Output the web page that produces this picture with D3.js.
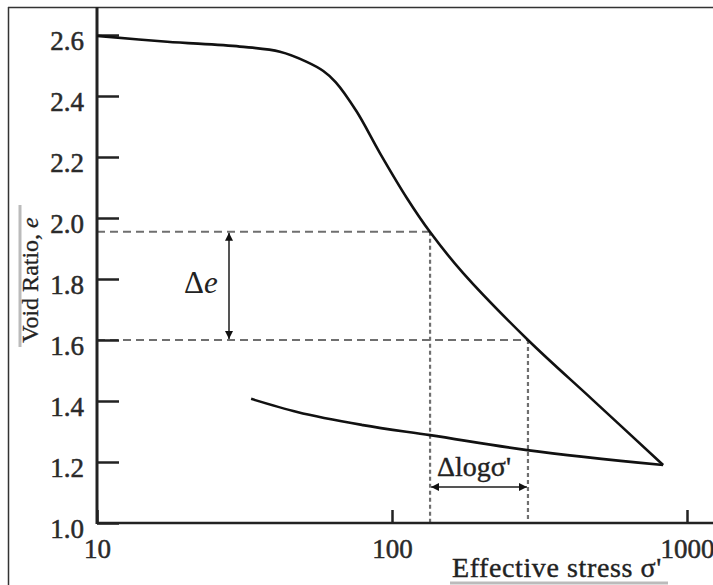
<!DOCTYPE html>
<html>
<head>
<meta charset="utf-8">
<script src="https://cdn.jsdelivr.net/npm/d3@7"></script>
<style>
  body { margin: 0; background: #fff; }
  svg { display: block; }
  text { font-family: 'Liberation Serif', 'DejaVu Serif', serif; }
</style>
</head>
<body>
<div id="chart"></div>
<script>
// e-log(sigma') consolidation curve
const virginStress = [10, 17.3, 30.5, 41.7, 51.4, 58.5, 64.5, 75.9, 91, 112.4, 134.6, 174, 289, 480, 830];
const virginVoid   = [2.597, 2.578, 2.562, 2.545, 2.512, 2.482, 2.445, 2.349, 2.213, 2.065, 1.954, 1.82, 1.60, 1.403, 1.19];

const unloadStress = [33.3, 47.7, 79.7, 134.6, 287, 830];
const unloadVoid   = [1.407, 1.364, 1.321, 1.288, 1.239, 1.19];

const yTicks = [1.0, 1.2, 1.4, 1.6, 1.8, 2.0, 2.2, 2.4, 2.6];
const xTicks = [10, 100, 1000];

// construction lines
const eMarks = [1.955, 1.60];
const sigmaMarks = [134.6, 289];

const W = 713, H = 585;

const svg = d3.select("#chart")
  .append("svg")
  .attr("width", W)
  .attr("height", H);

const x = d3.scaleLog().domain([10, 1000]).range([97, 687]);
const y = d3.scaleLinear().domain([1.0, 2.6]).range([523, 35]);

// outer frame (left and top only, right/bottom cropped off)
svg.append("line").attr("x1", 8.5).attr("y1", 7).attr("x2", 8.5).attr("y2", H)
  .attr("stroke", "#333").attr("stroke-width", 1.5);
svg.append("line").attr("x1", 8).attr("y1", 7.5).attr("x2", W).attr("y2", 7.5)
  .attr("stroke", "#333").attr("stroke-width", 1.5);

// dashed construction lines
const dash = svg.append("g")
  .attr("stroke", "#6f6f6f")
  .attr("stroke-width", 2.2)
  .attr("fill", "none");

eMarks.forEach((e, i) => {
  dash.append("line")
    .attr("x1", x(10)).attr("x2", x(sigmaMarks[i]))
    .attr("y1", y(e)).attr("y2", y(e))
    .attr("stroke-dasharray", "8,5");
  dash.append("line")
    .attr("x1", x(sigmaMarks[i])).attr("x2", x(sigmaMarks[i]))
    .attr("y1", y(e)).attr("y2", y(1.0))
    .attr("stroke-dasharray", "4,3");
});

// axes
const yAxis = d3.axisLeft(y)
  .tickValues(yTicks)
  .tickFormat(d3.format(".1f"))
  .tickSizeInner(-22)
  .tickSizeOuter(0)
  .tickPadding(13);

const gy = svg.append("g")
  .attr("transform", `translate(${x(10)},0)`)
  .call(yAxis);
gy.select(".domain").remove();
gy.selectAll(".tick line").attr("stroke", "#222").attr("stroke-width", 2.5);
gy.selectAll(".tick text")
  .attr("dy", "0.52em")
  .style("font-family", "'Liberation Serif', 'DejaVu Serif', serif")
  .style("font-size", "27px")
  .attr("fill", "#2a2a2a")
  .attr("stroke", "#2a2a2a")
  .attr("stroke-width", 0.5);

const xAxis = d3.axisBottom(x)
  .tickValues(xTicks)
  .tickFormat(d3.format("d"))
  .tickSizeInner(-13)
  .tickSizeOuter(0)
  .tickPadding(16);

const gx = svg.append("g")
  .attr("transform", `translate(0,${y(1.0)})`)
  .call(xAxis);
gx.select(".domain").remove();
gx.selectAll(".tick line").attr("stroke", "#222").attr("stroke-width", 2.5);
gx.selectAll(".tick text")
  .style("font-family", "'Liberation Serif', 'DejaVu Serif', serif")
  .style("font-size", "27px")
  .attr("fill", "#2a2a2a")
  .attr("stroke", "#2a2a2a")
  .attr("stroke-width", 0.5);

// axis lines
svg.append("line")
  .attr("x1", x(10)).attr("x2", x(10))
  .attr("y1", 7).attr("y2", y(1.0) + 1)
  .attr("stroke", "#222").attr("stroke-width", 3);
svg.append("line")
  .attr("x1", x(10)).attr("x2", W)
  .attr("y1", y(1.0)).attr("y2", y(1.0))
  .attr("stroke", "#222").attr("stroke-width", 2.5);

// curves
const virginLine = d3.line()
  .x(d => x(d[0]))
  .y(d => y(d[1]))
  .curve(d3.curveCatmullRom.alpha(0.5));

const unloadLine = d3.line()
  .x(d => x(d[0]))
  .y(d => y(d[1]))
  .curve(d3.curveMonotoneX);

svg.append("path")
  .datum(d3.zip(virginStress, virginVoid))
  .attr("d", virginLine)
  .attr("fill", "none")
  .attr("stroke", "#111")
  .attr("stroke-width", 2.6);

svg.append("path")
  .datum(d3.zip(unloadStress, unloadVoid))
  .attr("d", unloadLine)
  .attr("fill", "none")
  .attr("stroke", "#111")
  .attr("stroke-width", 2.6);

// arrow markers
const defs = svg.append("defs");
defs.append("marker")
  .attr("id", "arr")
  .attr("viewBox", "0 0 10 10")
  .attr("refX", 10).attr("refY", 5)
  .attr("markerWidth", 4).attr("markerHeight", 4)
  .attr("markerUnits", "strokeWidth")
  .attr("orient", "auto-start-reverse")
  .append("path")
  .attr("d", "M0,0L10,5L0,10Z")
  .attr("fill", "#111");

// delta e arrow
const deX = 229;
svg.append("line")
  .attr("x1", deX).attr("x2", deX)
  .attr("y1", y(eMarks[0]) + 1).attr("y2", y(eMarks[1]) - 1)
  .attr("stroke", "#555").attr("stroke-width", 2)
  .attr("marker-start", "url(#arr)")
  .attr("marker-end", "url(#arr)");

const deText = svg.append("text")
  .attr("x", 184).attr("y", 293)
  .style("font-size", "31px")
  .attr("fill", "#222");
deText.append("tspan").text("Δ");
deText.append("tspan").style("font-style", "italic").text("e");

// delta log sigma arrow
const dlY = 487;
svg.append("line")
  .attr("x1", x(sigmaMarks[0]) + 1).attr("x2", x(sigmaMarks[1]) - 1)
  .attr("y1", dlY).attr("y2", dlY)
  .attr("stroke", "#555").attr("stroke-width", 2)
  .attr("marker-start", "url(#arr)")
  .attr("marker-end", "url(#arr)");

svg.append("text")
  .attr("x", 437).attr("y", 476)
  .style("font-size", "28px")
  .attr("fill", "#222")
  .attr("stroke", "#222")
  .attr("stroke-width", 0.4)
  .text("Δlogσ'");

// axis titles
svg.append("line")
  .attr("x1", 450).attr("x2", 668)
  .attr("y1", 583).attr("y2", 583)
  .attr("stroke", "#bbb").attr("stroke-width", 3);
svg.append("text")
  .attr("x", 452).attr("y", 577)
  .style("font-size", "28px")
  .style("letter-spacing", "0.6px")
  .attr("fill", "#222")
  .attr("stroke", "#222")
  .attr("stroke-width", 0.4)
  .text("Effective stress σ'");

svg.append("line")
  .attr("x1", 20).attr("x2", 20)
  .attr("y1", 205).attr("y2", 347)
  .attr("stroke", "#bbb").attr("stroke-width", 3);
const yl = svg.append("text")
  .attr("transform", "translate(38,280) rotate(-90)")
  .attr("text-anchor", "middle")
  .style("font-size", "24px")
  .attr("fill", "#222")
  .attr("stroke", "#222")
  .attr("stroke-width", 0.3);
yl.append("tspan").text("Void Ratio, ");
yl.append("tspan").style("font-style", "italic").text("e");
</script>
</body>
</html>
